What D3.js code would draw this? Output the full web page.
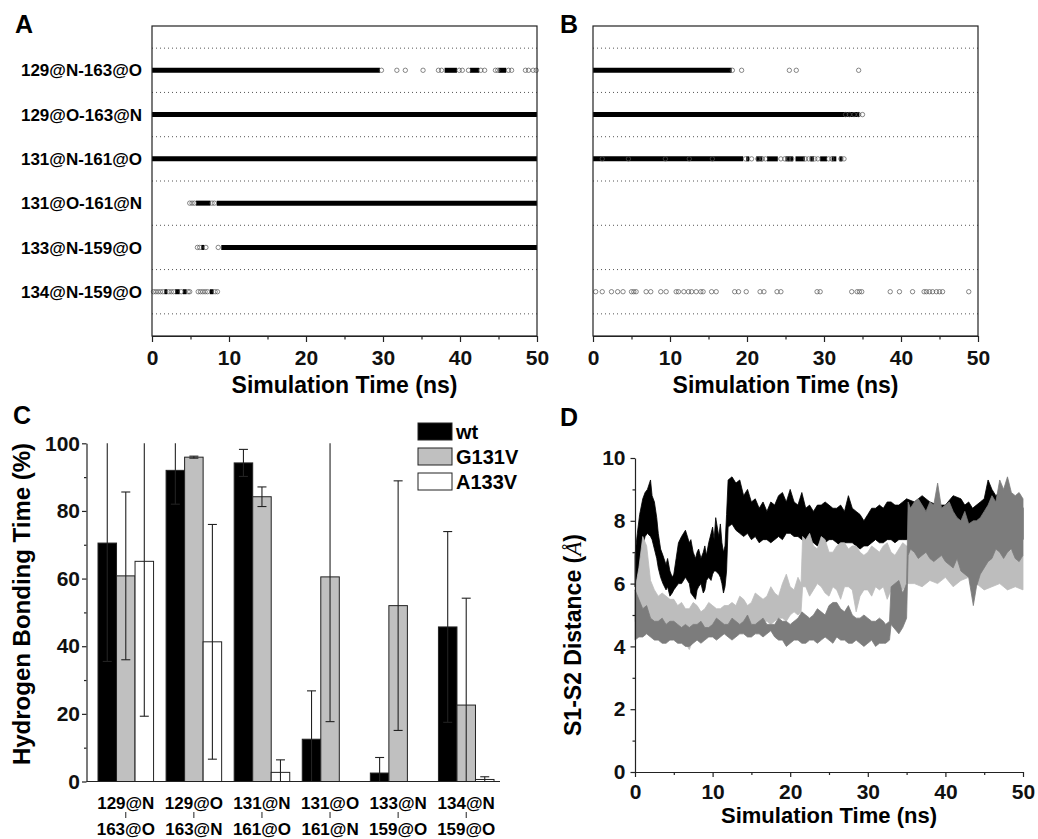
<!DOCTYPE html>
<html>
<head>
<meta charset="utf-8">
<script src="https://cdn.jsdelivr.net/npm/d3@7"></script>
<style>
  body { margin: 0; background: #fff; }
  .ax path, .ax line { stroke: #222; stroke-width: 1.2; }
  .ax text { font-family: "Liberation Sans", Arial, sans-serif; font-weight: bold; fill: #111; }
</style>
</head>
<body>
<div id="chart"></div>
<script>
// ---------- data ----------
var timeTicks = [0, 10, 20, 30, 40, 50];
var timeMinor = [5, 15, 25, 35, 45];
var bondLabels = ["129@N-163@O", "129@O-163@N", "131@N-161@O", "131@O-161@N", "133@N-159@O", "134@N-159@O"];

// panel A (wt): continuous bonded stretches [row, from ns, to ns]
var wtRuns = [[0, 0, 29.6], [0, 38.0, 39.6], [0, 41.3, 42.5], [0, 45.0, 46.0],
  [1, 0, 50], [2, 0, 50],
  [3, 5.7, 7.6], [3, 8.4, 50],
  [4, 6.4, 6.8], [4, 9.0, 50],
  [5, 1.6, 2.0], [5, 3.0, 3.6], [5, 4.0, 4.5], [5, 7.5, 8.0]];
// panel A (wt): isolated frames [row, ns]
var wtHits = [[0, 29.8], [0, 31.8], [0, 32.9], [0, 35.2], [0, 37.2], [0, 37.6], [0, 39.9], [0, 40.3], [0, 41.1],
  [0, 42.7], [0, 43.2], [0, 44.6], [0, 44.9], [0, 46.3], [0, 46.7], [0, 48.5], [0, 48.9], [0, 49.5], [0, 49.9],
  [3, 4.9], [3, 5.2], [3, 5.5], [3, 7.8], [3, 8.1],
  [4, 5.9], [4, 6.2], [4, 7.0], [4, 8.6],
  [5, 0.2], [5, 0.5], [5, 0.8], [5, 1.1], [5, 1.4], [5, 2.2], [5, 2.5], [5, 2.8], [5, 3.8], [5, 4.7], [5, 4.9],
  [5, 6.0], [5, 6.3], [5, 6.6], [5, 6.9], [5, 7.2], [5, 8.2], [5, 8.5]];

// panel B (G131V)
var mutRuns = [[0, 0, 18.0], [1, 0, 34.6],
  [2, 0, 19.5], [2, 19.9, 20.3], [2, 21.2, 22.0], [2, 22.6, 24.0], [2, 25.0, 26.0], [2, 26.3, 27.5],
  [2, 28.2, 28.7], [2, 29.5, 30.4], [2, 31.0, 31.6], [2, 32.0, 32.4]];
var mutHits = [[0, 18.1], [0, 19.3], [0, 25.5], [0, 26.4], [0, 34.5],
  [1, 32.8], [1, 33.3], [1, 33.9], [1, 34.5], [1, 35.0],
  [2, 1.2], [2, 4.6], [2, 9.4], [2, 12.5], [2, 15.5], [2, 19.8], [2, 20.6], [2, 21.4], [2, 22.0], [2, 22.4],
  [2, 24.4], [2, 24.9], [2, 25.4], [2, 25.8], [2, 27.6], [2, 28.0], [2, 28.4], [2, 28.8], [2, 29.2],
  [2, 30.6], [2, 31.0], [2, 32.2], [2, 32.6],
  [5, 0.35], [5, 1.2], [5, 2.4], [5, 3.2], [5, 3.9], [5, 5.0], [5, 5.3], [5, 5.6], [5, 6.9], [5, 7.5],
  [5, 8.8], [5, 9.5], [5, 10.8], [5, 11.1], [5, 11.8], [5, 12.4], [5, 12.8], [5, 13.4], [5, 14.0], [5, 14.3],
  [5, 15.4], [5, 16.0], [5, 18.4], [5, 18.9], [5, 19.9], [5, 21.7], [5, 22.2], [5, 23.9], [5, 24.4],
  [5, 29.1], [5, 29.5], [5, 33.6], [5, 34.3], [5, 34.6], [5, 34.9], [5, 38.6], [5, 39.8], [5, 41.5],
  [5, 43.0], [5, 43.3], [5, 43.7], [5, 44.1], [5, 44.6], [5, 45.0], [5, 45.4], [5, 48.8]];

// panel C
var groupTop = ["129@N", "129@O", "131@N", "131@O", "133@N", "134@N"];
var groupBottom = ["163@O", "163@N", "161@O", "161@N", "159@O", "159@O"];
var seriesNames = ["wt", "G131V", "A133V"];
var wtMean = [70.5, 92.0, 94.2, 12.5, 2.5, 45.7];
var wtErr = [35.0, 10.0, 4.0, 14.3, 4.6, 28.2];
var g131vMean = [60.8, 95.9, 84.2, 60.5, 52.0, 22.6];
var g131vErr = [24.8, 0.3, 2.9, 42.8, 36.9, 31.6];
var a133vMean = [65.1, 41.3, 2.7, 0, 0, 0.6];
var a133vErr = [45.8, 34.7, 3.7, 0, 0, 0.8];
var pctTicks = [0, 20, 40, 60, 80, 100];
var pctMinor = [10, 30, 50, 70, 90];

// panel D: envelopes of the S1-S2 distance traces [ns, low, high]
var traceBlack = [[0, 5.9, 6.9], [0.3, 6.2, 7.6], [0.6, 6.6, 8.2], [1, 7.2, 8.7], [1.3, 7.5, 8.9], [1.6, 7.6, 9.0],
  [2, 7.5, 9.3], [2.2, 7.4, 8.8], [2.5, 7.1, 8.6], [2.8, 6.8, 8.1], [3, 6.5, 7.6], [3.3, 6.2, 7.1], [3.6, 6.0, 6.9],
  [4, 5.8, 6.6], [4.2, 5.9, 6.8], [4.5, 5.6, 6.4], [4.8, 5.7, 6.2], [5, 5.8, 6.3], [5.3, 5.9, 6.8], [5.6, 6.0, 7.3],
  [6, 6.0, 7.5], [6.5, 6.2, 7.7], [7, 6.0, 7.3], [7.2, 5.7, 7.4], [7.5, 5.6, 7.0], [7.8, 5.5, 6.8], [8, 5.8, 7.0],
  [8.2, 5.9, 7.1], [8.5, 6.0, 6.8], [8.8, 5.7, 7.0], [9, 5.8, 7.2], [9.2, 6.1, 6.9], [9.5, 6.2, 7.3], [9.8, 6.1, 7.6],
  [10, 6.3, 7.8], [10.2, 6.4, 7.4], [10.4, 6.4, 8.1], [10.8, 6.3, 7.5], [11.0, 6.2, 7.9], [11.2, 6.0, 7.3],
  [11.4, 5.7, 7.0], [11.6, 5.9, 7.2], [11.8, 6.4, 8.2],
  [12, 7.8, 9.3], [12.5, 7.9, 9.4], [13, 7.7, 9.2], [13.5, 7.6, 9.3], [14, 7.5, 8.8], [14.5, 7.6, 9.0],
  [15, 7.4, 8.6], [15.5, 7.5, 8.7], [16, 7.3, 8.4], [16.5, 7.4, 8.6], [17, 7.4, 8.3], [17.5, 7.3, 8.6],
  [18, 7.4, 8.5], [18.5, 7.5, 8.8], [19, 7.4, 8.9], [19.5, 7.6, 8.6], [20, 7.6, 9.0], [20.5, 7.5, 8.6],
  [21, 7.5, 8.5], [21.5, 7.4, 8.9], [22, 7.3, 8.4], [22.5, 7.3, 8.5], [23, 7.3, 8.3], [23.5, 7.2, 8.5],
  [24, 7.4, 8.5], [24.5, 7.3, 8.6], [25, 7.4, 8.5], [25.5, 7.4, 8.4], [26, 7.3, 8.4], [26.5, 7.2, 8.5],
  [27, 7.3, 8.3], [27.5, 7.3, 8.8], [28, 7.3, 8.4], [28.5, 7.2, 8.3], [29, 7.1, 8.2], [29.5, 7.2, 8.0],
  [30, 7.2, 8.2], [30.5, 7.3, 8.4], [31, 7.4, 8.4], [31.5, 7.3, 8.5], [32, 7.3, 8.4], [32.5, 7.4, 8.6],
  [33, 7.4, 8.6], [33.5, 7.3, 8.5], [34, 7.4, 8.5], [34.5, 7.4, 8.6], [35, 7.4, 8.7], [36, 7.5, 8.6],
  [37, 7.6, 8.8], [38, 7.5, 8.6], [39, 7.4, 8.5], [40, 7.6, 8.5], [41, 7.6, 8.8], [42, 7.6, 8.7], [42.5, 7.3, 8.5],
  [43, 7.5, 8.6], [43.5, 7.6, 8.4], [44, 7.3, 8.5], [44.5, 7.4, 8.6], [45, 7.5, 8.7], [45.5, 7.7, 9.3],
  [46, 8.0, 9.0], [46.5, 7.9, 8.8], [47, 8.0, 8.9], [47.5, 7.7, 8.8], [48, 7.6, 8.6], [48.5, 7.5, 8.5],
  [49, 7.4, 8.5], [49.5, 7.5, 8.7], [50, 7.4, 8.4]];
var traceLight = [[0, 4.8, 5.8], [0.5, 5.0, 6.5], [1, 5.2, 7.5], [1.5, 5.0, 7.2], [2, 4.8, 6.1], [2.5, 4.6, 5.8],
  [3, 4.5, 5.6], [3.5, 4.5, 5.7], [4, 4.4, 5.6], [4.5, 4.4, 5.5], [5, 4.3, 5.5], [5.5, 4.3, 5.3], [6, 4.2, 5.4],
  [6.5, 4.1, 5.2], [7, 3.9, 5.2], [7.5, 4.2, 5.4], [8, 4.3, 5.3], [8.5, 4.4, 5.1], [9, 4.4, 5.2], [9.5, 4.3, 5.4],
  [10, 4.5, 5.3], [10.5, 4.6, 5.2], [11, 4.5, 5.2], [11.5, 4.4, 5.3], [12, 4.6, 5.3], [12.5, 4.7, 5.4],
  [13, 4.6, 5.3], [13.5, 4.5, 5.6], [14, 4.7, 5.5], [14.5, 4.8, 5.3], [15, 4.7, 5.4], [15.5, 4.6, 5.7],
  [16, 4.7, 5.6], [16.5, 4.8, 5.5], [17, 4.8, 5.6], [17.5, 4.7, 5.9], [18, 4.8, 5.7], [18.5, 4.9, 5.6],
  [19, 4.9, 6.0], [19.5, 4.8, 6.3], [20, 5.0, 5.9], [20.5, 5.1, 5.8], [21, 5.0, 6.2], [21.4, 5.1, 6.0],
  [21.6, 5.9, 7.5], [22, 5.9, 7.4], [22.5, 5.6, 7.6], [23, 5.8, 7.2], [23.5, 6.0, 7.1], [24, 5.9, 7.5],
  [24.5, 5.7, 7.4], [25, 5.6, 7.0], [25.5, 5.9, 7.0], [26, 5.8, 7.2], [26.5, 5.5, 7.3], [27, 5.9, 7.3],
  [27.5, 5.9, 7.1], [28, 5.8, 7.2], [28.5, 5.1, 7.2], [29, 5.6, 7.0], [29.5, 5.8, 6.9], [30, 5.8, 7.0],
  [30.5, 5.6, 7.2], [31, 5.9, 7.1], [31.5, 5.8, 7.0], [32, 5.9, 7.2], [32.5, 5.5, 7.3], [33, 5.8, 7.0],
  [33.5, 5.9, 6.9], [34, 6.0, 7.1], [34.5, 5.8, 7.3], [35, 6.0, 7.2], [36, 6.0, 7.2], [37, 5.9, 7.4],
  [38, 6.1, 7.3], [39, 6.0, 7.2], [40, 6.2, 7.3], [41, 5.9, 7.4], [42, 6.1, 7.2], [43, 6.2, 7.1], [44, 6.0, 7.1],
  [45, 5.8, 7.3], [46, 5.9, 7.2], [47, 6.0, 7.0], [48, 5.8, 7.0], [49, 5.9, 7.1], [50, 5.8, 6.9]];
var traceDark = [[0, 4.2, 5.8], [0.5, 4.3, 5.5], [1, 4.3, 5.2], [1.5, 4.4, 5.3], [2, 4.3, 4.9], [2.5, 4.2, 4.8],
  [3, 4.2, 4.8], [3.5, 4.1, 4.9], [4, 4.1, 4.7], [4.5, 4.2, 4.8], [5, 4.2, 4.8], [5.5, 4.1, 4.7], [6, 4.1, 4.6],
  [6.5, 4.0, 4.7], [7, 4.0, 4.6], [7.5, 4.1, 4.7], [8, 4.2, 4.7], [8.5, 4.1, 4.8], [9, 4.2, 4.6], [9.5, 4.3, 4.6],
  [10, 4.3, 4.7], [10.5, 4.2, 4.9], [11, 4.3, 4.8], [11.5, 4.4, 4.7], [12, 4.3, 4.7], [12.5, 4.2, 4.9],
  [13, 4.3, 4.8], [13.5, 4.4, 4.7], [14, 4.4, 4.8], [14.5, 4.3, 5.0], [15, 4.3, 4.7], [15.5, 4.4, 4.7],
  [16, 4.4, 4.8], [16.5, 4.3, 4.9], [17, 4.4, 4.7], [17.5, 4.5, 4.7], [18, 4.3, 4.7], [18.5, 4.2, 4.9],
  [19, 4.2, 4.8], [19.5, 4.0, 4.8], [20, 4.1, 4.7], [20.5, 4.2, 4.8], [21, 4.2, 4.9], [21.5, 4.1, 5.1],
  [22, 4.1, 5.0], [22.5, 4.2, 4.9], [23, 4.2, 5.0], [23.5, 4.1, 5.2], [24, 4.2, 5.1], [24.5, 4.3, 5.0],
  [25, 4.2, 5.3], [25.5, 4.1, 5.4], [26, 4.3, 5.4], [26.5, 4.2, 5.2], [27, 4.2, 5.1], [27.5, 4.1, 5.3],
  [28, 4.1, 5.0], [28.5, 4.2, 4.9], [29, 4.1, 4.9], [29.5, 4.0, 5.0], [30, 4.1, 4.9], [30.5, 4.2, 4.8],
  [31, 4.0, 4.8], [31.5, 4.1, 4.9], [32, 4.1, 4.8], [32.3, 4.1, 4.7], [32.8, 4.2, 4.8], [33, 4.7, 5.9],
  [34, 4.4, 6.1], [34.5, 4.6, 5.7], [35, 4.9, 6.0], [35.2, 6.9, 8.6], [35.5, 7.1, 8.4], [36, 7.0, 8.6],
  [36.5, 6.8, 8.7], [37, 6.9, 8.5], [37.5, 7.0, 8.3], [38, 6.8, 8.6], [38.5, 6.7, 8.5], [39, 6.8, 9.2],
  [39.5, 6.9, 8.4], [40, 6.7, 8.5], [40.5, 6.6, 8.6], [41, 6.5, 8.3], [41.5, 6.8, 8.1], [42, 6.4, 8.0],
  [42.5, 6.3, 8.3], [43, 6.2, 7.9], [43.6, 5.3, 8.0], [44, 5.9, 8.0], [44.5, 6.3, 8.1], [45, 6.5, 8.3],
  [45.5, 6.7, 8.5], [46, 6.8, 8.8], [46.5, 7.1, 8.6], [47, 7.0, 9.3], [47.5, 6.8, 9.0], [48, 7.0, 9.4],
  [48.5, 7.1, 8.9], [49, 6.8, 8.8], [49.5, 6.7, 8.9], [50, 6.9, 8.7]];
var distTicks = [0, 2, 4, 6, 8, 10];
var distMinor = [1, 3, 5, 7, 9];

// ---------- drawing ----------
var FONT = "'Liberation Sans', Arial, sans-serif";

var svg = d3.select("#chart")
  .append("svg")
  .attr("width", 1038)
  .attr("height", 839);

svg.append("rect")
  .attr("width", 1038)
  .attr("height", 839)
  .attr("fill", "white");

function panelLetter(x, y, t) {
  svg.append("text")
    .attr("x", x).attr("y", y)
    .attr("font-family", FONT).attr("font-weight", "bold").attr("font-size", "25px")
    .text(t);
}

var yRow = d3.scaleLinear().domain([0, 7]).range([26, 336]);

function drawTimeline(x, runs, hits) {
  var g = svg.append("g");
  var top = yRow.range()[0], bottom = yRow.range()[1];

  // dotted separators
  g.selectAll(".sep").data(d3.range(0.5, 7, 1)).enter().append("line")
    .attr("x1", x.range()[0]).attr("x2", x.range()[1])
    .attr("y1", d => yRow(d)).attr("y2", d => yRow(d))
    .attr("stroke", "#555").attr("stroke-width", 1).attr("stroke-dasharray", "1,3");

  g.selectAll(".run").data(runs).enter().append("line")
    .attr("x1", d => x(d[1])).attr("x2", d => x(d[2]))
    .attr("y1", d => yRow(d[0] + 1)).attr("y2", d => yRow(d[0] + 1))
    .attr("stroke", "black").attr("stroke-width", 5);

  g.selectAll(".hit").data(hits).enter().append("circle")
    .attr("cx", d => x(d[1])).attr("cy", d => yRow(d[0] + 1))
    .attr("r", 2.2)
    .attr("fill", "none").attr("stroke", "#555").attr("stroke-width", 0.7);

  // frame
  g.append("rect")
    .attr("x", x.range()[0]).attr("y", top)
    .attr("width", x.range()[1] - x.range()[0]).attr("height", bottom - top)
    .attr("fill", "none").attr("stroke", "#222").attr("stroke-width", 1.2);

  var ax = g.append("g").attr("class", "ax")
    .attr("transform", `translate(0, ${bottom})`)
    .call(d3.axisBottom(x).tickValues(timeTicks).tickSize(6).tickPadding(8).tickSizeOuter(0));
  ax.selectAll("text").attr("font-size", "21px");
  g.append("g").attr("class", "ax")
    .attr("transform", `translate(0, ${bottom})`)
    .call(d3.axisBottom(x).tickValues(timeMinor).tickSize(3.5).tickFormat("").tickSizeOuter(0))
    .select(".domain").remove();

  g.append("text")
    .attr("x", (x.range()[0] + x.range()[1]) / 2).attr("y", 393)
    .attr("text-anchor", "middle")
    .attr("font-family", FONT).attr("font-weight", "bold").attr("font-size", "23px")
    .text("Simulation Time (ns)");
}

var xA = d3.scaleLinear().domain([0, 50]).range([152, 537]);
var xB = d3.scaleLinear().domain([0, 50]).range([593, 978]);
drawTimeline(xA, wtRuns, wtHits);
drawTimeline(xB, mutRuns, mutHits);

svg.selectAll(".bondLabel").data(bondLabels).enter().append("text")
  .attr("x", 142).attr("y", (d, i) => yRow(i + 1))
  .attr("dy", "0.36em")
  .attr("text-anchor", "end")
  .attr("font-family", FONT).attr("font-weight", "bold").attr("font-size", "17px")
  .text(d => d);

panelLetter(15, 33, "A");
panelLetter(560, 33, "B");

// ---- panel C ----
var xC = d3.scaleBand().domain(d3.range(6)).range([98, 494]).paddingInner(0.184);
var xSub = d3.scaleBand().domain([0, 1, 2]).range([0, xC.bandwidth()]);
var yC = d3.scaleLinear().domain([0, 100]).range([781.5, 443.3]);

var barFill = ["black", "#c0c0c0", "white"];
var means = [wtMean, g131vMean, a133vMean];
var errs = [wtErr, g131vErr, a133vErr];

var gC = svg.append("g");
var barData = [];
means.forEach(function(m, s) {
  m.forEach(function(v, i) { barData.push({s: s, i: i, v: v, e: errs[s][i]}); });
});

gC.selectAll(".bar").data(barData.filter(d => d.v > 0)).enter().append("rect")
  .attr("x", d => xC(d.i) + xSub(d.s))
  .attr("y", d => yC(d.v))
  .attr("width", xSub.bandwidth())
  .attr("height", d => yC(0) - yC(d.v))
  .attr("fill", d => barFill[d.s])
  .attr("stroke", "#222").attr("stroke-width", 1);

var errData = barData.filter(d => d.e > 0);
function cx(d) { return xC(d.i) + xSub(d.s) + xSub.bandwidth() / 2; }
gC.selectAll(".err").data(errData).enter().append("line")
  .attr("x1", cx).attr("x2", cx)
  .attr("y1", d => yC(Math.max(0, d.v - d.e)))
  .attr("y2", d => yC(Math.min(100, d.v + d.e)))
  .attr("stroke", "#222").attr("stroke-width", 1.1);
var caps = [];
errData.forEach(function(d) {
  if (d.v + d.e <= 100) caps.push({d: d, y: d.v + d.e});
  if (d.v - d.e >= 0) caps.push({d: d, y: d.v - d.e});
});
gC.selectAll(".cap").data(caps).enter().append("line")
  .attr("x1", c => cx(c.d) - 4.5).attr("x2", c => cx(c.d) + 4.5)
  .attr("y1", c => yC(c.y)).attr("y2", c => yC(c.y))
  .attr("stroke", "#222").attr("stroke-width", 1.1);

var axC = gC.append("g").attr("class", "ax")
  .attr("transform", "translate(86.5, 0)")
  .call(d3.axisLeft(yC).tickValues(pctTicks).tickSize(4.5).tickPadding(2).tickSizeOuter(0));
axC.selectAll("text").attr("font-size", "21px");
gC.append("g").attr("class", "ax")
  .attr("transform", "translate(86.5, 0)")
  .call(d3.axisLeft(yC).tickValues(pctMinor).tickSize(2.5).tickFormat("").tickSizeOuter(0))
  .select(".domain").remove();

gC.append("line")
  .attr("x1", 86.5).attr("x2", 500)
  .attr("y1", yC(0)).attr("y2", yC(0))
  .attr("stroke", "#222").attr("stroke-width", 1.2);

var glab = gC.selectAll(".glab").data(d3.range(6)).enter().append("g")
  .attr("transform", i => `translate(${xC(i) + xC.bandwidth() / 2}, 0)`);
glab.append("text").attr("y", 809).text(i => groupTop[i]);
glab.append("text").attr("y", 835).text(i => groupBottom[i]);
glab.selectAll("text")
  .attr("text-anchor", "middle")
  .attr("font-family", FONT).attr("font-weight", "bold").attr("font-size", "17px");
glab.append("line")
  .attr("y1", 812).attr("y2", 818)
  .attr("stroke", "#222").attr("stroke-width", 1);

gC.append("text")
  .attr("transform", "translate(30, 604) rotate(-90)")
  .attr("text-anchor", "middle")
  .attr("font-family", FONT).attr("font-weight", "bold").attr("font-size", "24px")
  .text("Hydrogen Bonding Time (%)");

var leg = gC.selectAll(".leg").data(seriesNames).enter().append("g")
  .attr("transform", (d, i) => `translate(418, ${423 + i * 25})`);
leg.append("rect")
  .attr("width", 34).attr("height", 17)
  .attr("fill", (d, i) => barFill[i])
  .attr("stroke", "#222").attr("stroke-width", 1);
leg.append("text")
  .attr("x", 38).attr("y", 16)
  .attr("font-family", FONT).attr("font-weight", "bold").attr("font-size", "20px")
  .text(d => d);

panelLetter(13, 424, "C");

// ---- panel D ----
var xD = d3.scaleLinear().domain([0, 50]).range([635, 1023]);
var yD = d3.scaleLinear().domain([0, 10]).range([772, 458]);
var gD = svg.append("g");

var band = d3.area()
  .x(d => xD(d[0]))
  .y0(d => yD(d[1]))
  .y1(d => yD(d[2]));

[[traceBlack, "#000"], [traceLight, "#bdbdbd"], [traceDark, "#7c7c7c"]].forEach(function(tr) {
  var pts = tr[0].slice().sort((a, b) => a[0] - b[0]);
  gD.append("path")
    .datum(pts)
    .attr("d", band)
    .attr("fill", tr[1])
    .attr("stroke", tr[1])
    .attr("stroke-width", 0.8);
});

var axDx = gD.append("g").attr("class", "ax")
  .attr("transform", `translate(0, ${yD(0)})`)
  .call(d3.axisBottom(xD).tickValues(timeTicks).tickSize(5).tickPadding(7).tickSizeOuter(0));
axDx.selectAll("text").attr("font-size", "21px");
gD.append("g").attr("class", "ax")
  .attr("transform", `translate(0, ${yD(0)})`)
  .call(d3.axisBottom(xD).tickValues(timeMinor).tickSize(3).tickFormat("").tickSizeOuter(0))
  .select(".domain").remove();

var axDy = gD.append("g").attr("class", "ax")
  .attr("transform", `translate(${xD(0)}, 0)`)
  .call(d3.axisLeft(yD).tickValues(distTicks).tickSize(4.5).tickPadding(5).tickSizeOuter(0));
axDy.selectAll("text").attr("font-size", "21px");
gD.append("g").attr("class", "ax")
  .attr("transform", `translate(${xD(0)}, 0)`)
  .call(d3.axisLeft(yD).tickValues(distMinor).tickSize(2.5).tickFormat("").tickSizeOuter(0))
  .select(".domain").remove();

gD.append("text")
  .attr("x", (xD.range()[0] + xD.range()[1]) / 2).attr("y", 823)
  .attr("text-anchor", "middle")
  .attr("font-family", FONT).attr("font-weight", "bold").attr("font-size", "22px")
  .text("Simulation Time (ns)");

var yl = gD.append("text")
  .attr("transform", "translate(581, 635) rotate(-90)")
  .attr("text-anchor", "middle")
  .attr("font-family", FONT).attr("font-weight", "bold").attr("font-size", "23px");
yl.append("tspan").text("S1-S2 Distance (");
yl.append("tspan").attr("font-family", "'Liberation Serif', serif").attr("font-style", "italic")
  .attr("font-weight", "normal").text("Å");
yl.append("tspan").text(")");

panelLetter(560, 426, "D");
</script>
</body>
</html>
